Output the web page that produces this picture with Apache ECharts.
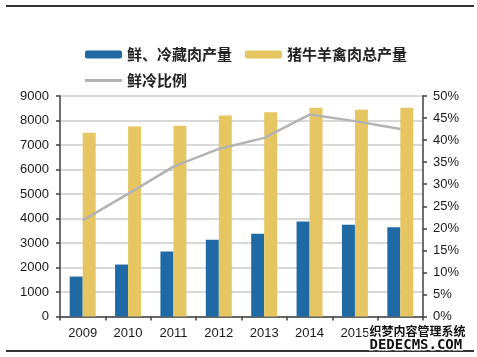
<!DOCTYPE html>
<html><head><meta charset="utf-8">
<script src="https://cdn.jsdelivr.net/npm/echarts@6/dist/echarts.min.js"></script>
<style>html,body{margin:0;padding:0;background:#fff}#c{width:477px;height:357px}</style>
</head><body><div id="c"></div>
<script>
const years = ['2009','2010','2011','2012','2013','2014','2015','2016'];
const chilledMeat = [1630, 2120, 2650, 3130, 3380, 3880, 3750, 3640];
const totalMeat = [7500, 7760, 7790, 8200, 8340, 8520, 8440, 8520];
const chilledRatio = [21.8, 27.8, 34.0, 38.0, 40.5, 45.8, 44.3, 42.5];
const leftTicks = {min: 0, max: 9000, interval: 1000};
const rightTicks = {min: 0, max: 50, interval: 5};

const chart = echarts.init(document.getElementById('c'), null, {renderer: 'canvas'});
const axisColor = '#404040';
const labelStyle = {color: '#1a1a1a', fontSize: 13, fontFamily: 'Liberation Sans, Arial, sans-serif'};
const cjk = '"Noto Sans CJK SC", sans-serif';
chart.setOption({
  animation: false,
  backgroundColor: '#fff',
  grid: {left: 60, right: 54, top: 96, bottom: 40.5},
  legend: [
    {data: ['鲜、冷藏肉产量', '猪牛羊禽肉总产量'], left: 80, top: 42, itemWidth: 37, itemHeight: 8, itemGap: 13,
     textStyle: {fontSize: 15, fontFamily: cjk, color: '#222', fontWeight: 'bold'}},
    {data: [{name: '鲜冷比例', icon: 'rect'}], left: 80, top: 68, itemWidth: 37, itemHeight: 3,
     textStyle: {fontSize: 15, fontFamily: cjk, color: '#222', fontWeight: 'bold'}}
  ],
  xAxis: {
    type: 'category', data: years,
    axisLine: {lineStyle: {color: axisColor, width: 1.5}},
    axisTick: {show: true, length: 4, lineStyle: {color: axisColor, width: 1.5}},
    axisLabel: Object.assign({margin: 10}, labelStyle)
  },
  yAxis: [
    Object.assign({type: 'value', position: 'left'}, leftTicks, {
      axisLine: {show: true, lineStyle: {color: axisColor, width: 1.5}},
      axisTick: {show: true, length: 4, lineStyle: {color: axisColor, width: 1.5}},
      axisLabel: Object.assign({margin: 11, formatter: v => String(v)}, labelStyle),
      splitLine: {show: true, lineStyle: {color: '#d9d9d9', width: 2}}
    }),
    Object.assign({type: 'value', position: 'right'}, rightTicks, {
      axisLine: {show: true, lineStyle: {color: axisColor, width: 1.5}},
      axisTick: {show: true, length: 4, lineStyle: {color: axisColor, width: 1.5}},
      axisLabel: Object.assign({margin: 10, formatter: '{value}%'}, labelStyle),
      splitLine: {show: false}
    })
  ],
  series: [
    {name: '鲜、冷藏肉产量', type: 'bar', data: chilledMeat, barWidth: 13, barGap: '0%',
     itemStyle: {color: '#1f6aa5'}},
    {name: '猪牛羊禽肉总产量', type: 'bar', data: totalMeat, barWidth: 13,
     itemStyle: {color: '#e5c662'}},
    {name: '鲜冷比例', type: 'line', yAxisIndex: 1, data: chilledRatio, showSymbol: false, symbol: 'none',
     lineStyle: {color: '#b3b3b3', width: 2.5}, itemStyle: {color: '#b3b3b3'}}
  ],
  graphic: [
    {type: 'line', shape: {x1: 6, y1: 6, x2: 474, y2: 6}, style: {stroke: '#333', lineWidth: 2}},
    {type: 'line', shape: {x1: 6, y1: 351, x2: 474, y2: 351}, style: {stroke: '#333', lineWidth: 2}},
    {type: 'text', left: 368, top: 324, z: 100, style: {text: '织梦内容管理系统', fontSize: 12, fontWeight: 'bold', fontFamily: cjk, fill: '#111', stroke: '#fff', lineWidth: 3}},
    {type: 'text', left: 368, top: 337, z: 100, style: {text: 'DEDECMS.COM', fontSize: 14, fontWeight: 'bold', fontFamily: 'DejaVu Sans Mono, monospace', fill: '#111', stroke: '#fff', lineWidth: 3}}
  ]
});
</script></body></html>
